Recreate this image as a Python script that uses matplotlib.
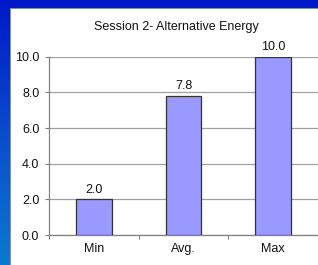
import numpy as np
import matplotlib
matplotlib.use("Agg")
import matplotlib.pyplot as plt
from matplotlib.patches import Rectangle
from matplotlib.colors import LinearSegmentedColormap

categories = ["Min", "Avg.", "Max"]
values = [2.0, 7.8, 10.0]
value_labels = ["2.0", "7.8", "10.0"]
yticks = [0, 2, 4, 6, 8, 10]
title = "Session 2- Alternative Energy"

W, H = 318, 265
dpi = 100
fig = plt.figure(figsize=(W / dpi, H / dpi), dpi=dpi)
plt.rcParams['font.family'] = ['Liberation Sans', 'DejaVu Sans']

# background gradient
bg = fig.add_axes([0, 0, 1, 1], zorder=-10)
cmap = LinearSegmentedColormap.from_list("bg", ["#0018c8", "#0a4ccc", "#0a7ad0"])
grad = np.linspace(0, 1, 256).reshape(-1, 1)
bg.imshow(grad, aspect="auto", cmap=cmap, extent=[0, 1, 0, 1], origin="upper")
bg.set_xlim(0, 1)
bg.set_ylim(0, 1)
bg.axis("off")
# white panel with faint shadow
bg.add_patch(Rectangle((10 / W, 0), 1, 1 - 8 / H, facecolor="#8090b0", edgecolor="none", zorder=1))
bg.add_patch(Rectangle((11 / W, 0), 1, 1 - 9 / H, facecolor="white", edgecolor="none", zorder=2))

fs = 9
ax = fig.add_axes([49 / W, 30 / H, (W - 49) / W, (235 - 56.7) / H])
ax.set_facecolor("none")
x = np.arange(len(categories))
ax.bar(x, values, width=0.4, color="#9999ff", edgecolor="#333333", linewidth=0.9, zorder=3)
for xi, v, lab in zip(x, values, value_labels):
    ax.annotate(lab, (xi, v), xytext=(0, 2.5), textcoords="offset points",
                ha="center", va="bottom", fontsize=fs, color="#111111")
ax.set_xlim(-0.5, len(categories) - 0.5)
ax.set_ylim(0, 10)
ax.set_yticks(yticks)
ax.set_yticklabels([f"{t:.1f}" for t in yticks], fontsize=fs, color="#111111")
ax.set_xticks(x)
ax.set_xticklabels(categories, fontsize=fs, color="#111111")
ax.tick_params(axis="x", length=0, pad=6)
ax.set_xticks(np.arange(-0.5, len(categories), 1.0), minor=True)
ax.tick_params(axis="x", which="minor", length=3, color="#808080", width=0.8, direction="out")
ax.tick_params(axis="y", length=3, color="#808080", width=0.8, pad=4)
ax.grid(axis="y", color="#a0a0a0", linewidth=0.9, zorder=0)
ax.set_axisbelow(True)
for s in ["top", "right"]:
    ax.spines[s].set_visible(False)
for s in ["left", "bottom"]:
    ax.spines[s].set_color("#808080")
    ax.spines[s].set_linewidth(0.9)

fig.text(176 / W, 1 - 27 / H, title, ha="center", va="center", fontsize=fs, color="#111111")

fig.savefig("out.png", dpi=dpi)
